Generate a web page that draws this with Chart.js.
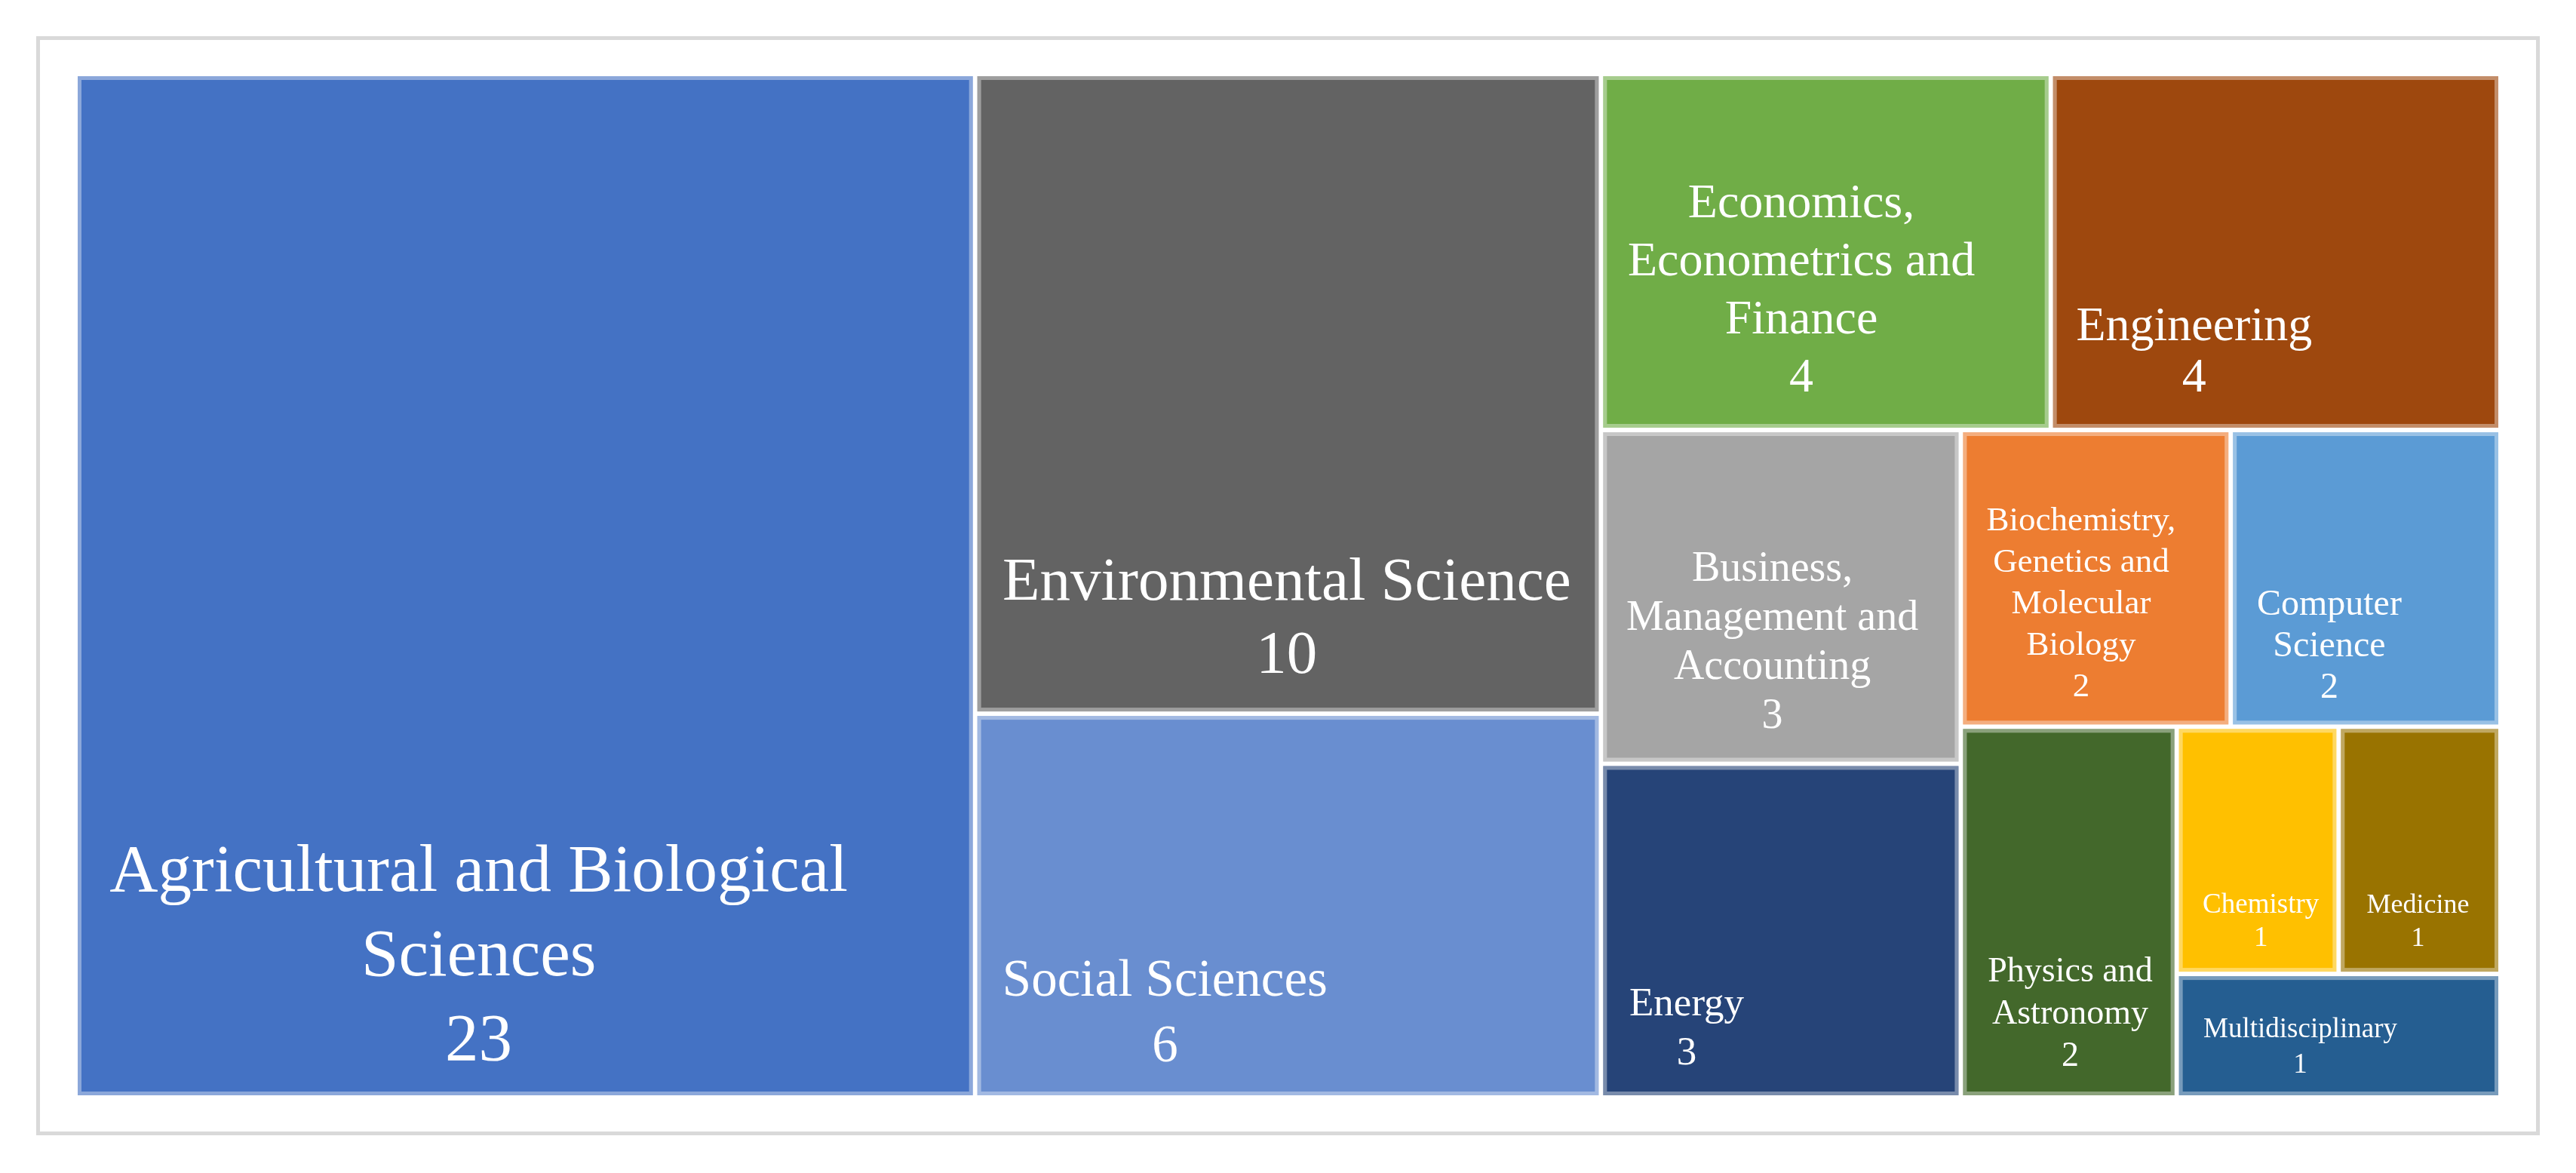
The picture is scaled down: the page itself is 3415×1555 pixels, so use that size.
<!DOCTYPE html>
<html>
<head>
<meta charset="utf-8">
<script src="https://cdn.jsdelivr.net/npm/chart.js@4.4.1/dist/chart.umd.min.js"></script>
<style>
  html, body { margin: 0; padding: 0; background: #fff; }
</style>
</head>
<body>
<canvas id="tree-graph" width="3415" height="1555"></canvas>
<script>
const categories = [
  "Agricultural and Biological Sciences",
  "Environmental Science",
  "Social Sciences",
  "Economics, Econometrics and Finance",
  "Engineering",
  "Business, Management and Accounting",
  "Energy",
  "Biochemistry, Genetics and Molecular Biology",
  "Computer Science",
  "Physics and Astronomy",
  "Chemistry",
  "Medicine",
  "Multidisciplinary",
];
const values = [23, 10, 6, 4, 4, 3, 3, 2, 2, 2, 1, 1, 1];
const labelLines = [
  ["Agricultural and Biological", "Sciences"],
  ["Environmental Science"],
  ["Social Sciences"],
  ["Economics,", "Econometrics and", "Finance"],
  ["Engineering"],
  ["Business,", "Management and", "Accounting"],
  ["Energy"],
  ["Biochemistry,", "Genetics and", "Molecular", "Biology"],
  ["Computer", "Science"],
  ["Physics and", "Astronomy"],
  ["Chemistry"],
  ["Medicine"],
  ["Multidisciplinary"],
];
const colors = [
  "#4472C4", "#636363", "#698ED0", "#70AD47", "#9E480E", "#A5A5A5", "#264478",
  "#ED7D31", "#5B9BD5", "#43682B", "#FFC000", "#997300", "#255E91",
];
// label style: font size, line spacing, block centre as fraction of the cell
const labelSize = [89, 81, 69, 64, 64, 56, 53, 45, 48, 46, 37, 36, 37];
const labelSpacing = [112, 97, 87, 77, 68, 65, 65, 55, 55, 56, 44, 44, 47];
const labelAnchor = [
  [0.448, 0.865], [0.498, 0.856], [0.302, 0.788], [0.445, 0.612],
  [0.317, 0.788], [0.476, 0.64], [0.235, 0.8], [0.445, 0.59],
  [0.363, 0.735], [0.507, 0.78], [0.52, 0.795], [0.49, 0.795], [0.38, 0.6],
];

function worst(row, side) {
  const s = row.reduce((a, b) => a + b, 0);
  const mx = Math.max(...row);
  const mn = Math.min(...row);
  return Math.max((side * side * mx) / (s * s), (s * s) / (side * side * mn));
}

// squarified treemap, in data units
function squarify(vals, x, y, w, h) {
  const total = vals.reduce((a, b) => a + b, 0);
  const k = (w * h) / total;
  const areas = vals.map((v) => v * k);
  const rects = [];
  let i = 0;
  while (i < areas.length) {
    const side = Math.min(w, h);
    const row = [areas[i]];
    let j = i + 1;
    while (j < areas.length && worst([...row, areas[j]], side) <= worst(row, side)) {
      row.push(areas[j]);
      j++;
    }
    const thick = row.reduce((a, b) => a + b, 0) / side;
    let off = 0;
    if (w >= h) {
      row.forEach((a) => {
        const len = a / thick;
        rects.push({ x: x, y: y + off, w: thick, h: len });
        off += len;
      });
      x += thick;
      w -= thick;
    } else {
      row.forEach((a) => {
        const len = a / thick;
        rects.push({ x: x + off, y: y, w: len, h: thick });
        off += len;
      });
      y += thick;
      h -= thick;
    }
    i = j;
  }
  return rects;
}

const treemapPlugin = {
  id: "treemapCells",
  beforeDraw(chart) {
    const { ctx, chartArea } = chart;
    ctx.save();
    ctx.strokeStyle = "#D9D9D9";
    ctx.lineWidth = 5;
    ctx.strokeRect(chartArea.left - 49.5, chartArea.top - 47.5,
      chartArea.width + 99, chartArea.height + 95);
    ctx.restore();
  },
  afterDatasetsDraw(chart) {
    const { ctx, chartArea, scales } = chart;
    const aspect = chartArea.width / chartArea.height;
    const rects = squarify(values, 0, 0, aspect, 1);
    const gap = 3;
    ctx.save();
    rects.forEach((r, i) => {
      const left = scales.x.getPixelForValue(r.x / aspect) + gap;
      const right = scales.x.getPixelForValue((r.x + r.w) / aspect) - gap;
      const top = scales.y.getPixelForValue(r.y) + gap;
      const bottom = scales.y.getPixelForValue(r.y + r.h) - gap;
      ctx.fillStyle = colors[i];
      ctx.fillRect(left, top, right - left, bottom - top);
      ctx.strokeStyle = "rgba(255,255,255,0.38)";
      ctx.lineWidth = 5;
      ctx.strokeRect(left + 2.5, top + 2.5, right - left - 5, bottom - top - 5);

      const lines = [...labelLines[i], String(values[i])];
      const cx = left + (right - left) * labelAnchor[i][0];
      const cy = top + (bottom - top) * labelAnchor[i][1];
      ctx.fillStyle = "#FFFFFF";
      ctx.textAlign = "center";
      ctx.textBaseline = "middle";
      ctx.font = labelSize[i] + 'px "Liberation Serif", "DejaVu Serif", serif';
      const y0 = cy - ((lines.length - 1) / 2) * labelSpacing[i];
      lines.forEach((t, n) => ctx.fillText(t, cx, y0 + n * labelSpacing[i]));
    });
    ctx.restore();
  },
};

const treeGraph = document.getElementById("tree-graph").getContext("2d");
const treeChart = new Chart(treeGraph, {
  type: "scatter",
  data: {
    datasets: [
      {
        label: "Documents by subject area",
        data: [],
        pointRadius: 0,
      },
    ],
  },
  options: {
    responsive: false,
    animation: false,
    devicePixelRatio: 1,
    layout: {
      padding: { left: 100, top: 98, right: 100, bottom: 100 },
    },
    plugins: {
      legend: { display: false },
      tooltip: { enabled: false },
    },
    scales: {
      x: { type: "linear", min: 0, max: 1, display: false },
      y: { type: "linear", min: 0, max: 1, reverse: true, display: false },
    },
  },
  plugins: [treemapPlugin],
});
</script>
</body>
</html>
